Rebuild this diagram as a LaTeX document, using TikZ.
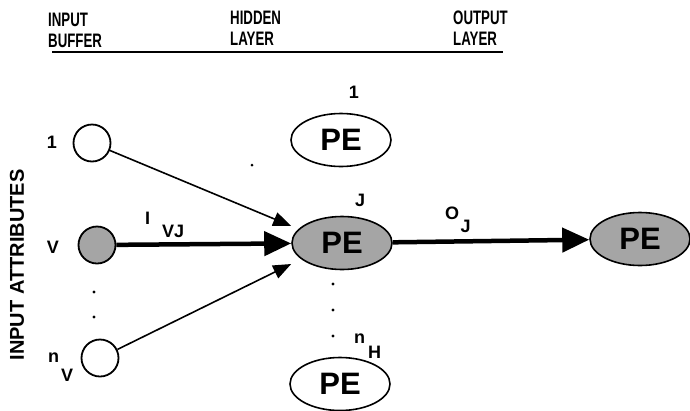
\documentclass[tikz,border=0pt]{standalone}
\usepackage{fontspec}
\setmainfont{Liberation Sans}
\newfontfamily\headfont[FakeStretch=0.68]{Liberation Sans}
\usetikzlibrary{arrows.meta,shapes.geometric}
\definecolor{pegray}{RGB}{165,165,165}
\newcommand{\lowsub}[4]{#1\hspace{#2}\raisebox{-#3}{#4}}

\begin{document}
\begin{tikzpicture}[x=1pt,y=-1pt,
  inbuf/.style={circle,draw,line width=1.8pt,minimum size=37pt,inner sep=0pt},
  pe/.style={ellipse,draw,line width=1.6pt,minimum width=100pt,minimum height=53pt,inner sep=0pt,font=\fontsize{31}{31}\selectfont\bfseries},
  lbl/.style={font=\fontsize{18}{18}\selectfont\bfseries,inner sep=0pt},
  head/.style={font=\headfont\bfseries\fontsize{19.5}{21}\selectfont,align=left,anchor=base west,inner sep=0pt},
  wt/.style={-{Triangle[length=18pt,width=14pt]},line width=1.6pt},
  wtbig/.style={-{Triangle[length=27pt,width=24pt]},line width=4.5pt},
]
\useasboundingbox (0,0) rectangle (690,410);
% ---- headings ----
\node[head] (hin) at (48,47) {INPUT\\BUFFER};
\node[head] (hhid) at (230,45) {HIDDEN\\LAYER};
\node[head] (hout) at (453,45) {OUTPUT\\LAYER};
\draw[line width=1.8pt] (52,52) -- (503,52);
% ---- input buffer ----
\node[inbuf] (in1) at (92,143) {};
\node[inbuf,fill=pegray] (inv) at (97,245) {};
\node[inbuf] (inn) at (100,358) {};
\node[lbl] (l1) at (52,142) {1};
\node[lbl] (lv) at (53,247) {V};
\node[lbl,anchor=base west] (lnv) at (48,362) {\lowsub{n}{2pt}{19.5pt}{V}};
\node[lbl,rotate=90] (attr) at (17,265) {\fontsize{20}{20}\selectfont INPUT ATTRIBUTES};
\foreach \y in {292,317} \fill (94,\y) circle (1.7pt);
% ---- hidden layer ----
\node[pe] (pe1) at (341,140) {PE};
\node[pe,fill=pegray] (pej) at (342,243) {PE};
\node[pe] (pen) at (340,384) {PE};
\node[lbl] (l1h) at (354,92) {1};
\node[lbl] (lj) at (360,200) {J};
\node[lbl,anchor=base west] (lnh) at (354,343) {\lowsub{n}{3pt}{15.5pt}{H}};
\foreach \y in {284,310,336} \fill (333,\y) circle (1.7pt);
\fill (252,165) circle (1.5pt);
% ---- output layer ----
\node[pe,fill=pegray] (peo) at (640,239) {PE};
% ---- connections ----
\draw[wt] (in1) -- ([yshift=17pt]pej.west);
\draw[wtbig] (inv) -- (pej);
\draw[wt] (inn) -- ([yshift=-21pt]pej.west);
\draw[wtbig] (pej) -- (peo);
\node[lbl,anchor=base west] (liv) at (145,224) {\lowsub{I}{12pt}{13pt}{VJ}};
\node[lbl,anchor=base west] (loj) at (445,219) {\lowsub{O}{1.5pt}{13pt}{J}};
\end{tikzpicture}
\end{document}
